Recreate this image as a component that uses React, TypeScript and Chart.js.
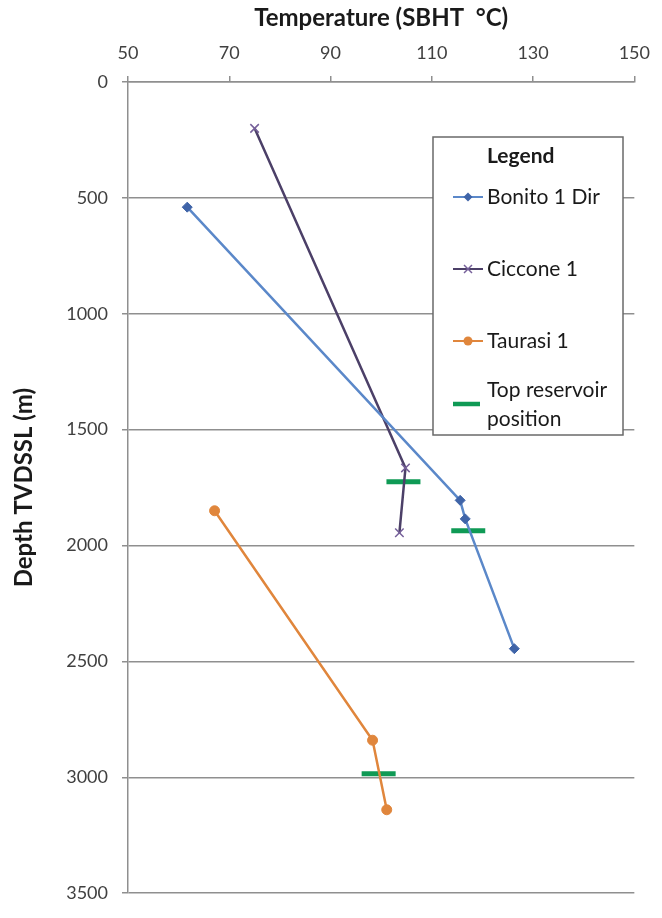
import React, { useEffect, useRef } from "react";
import { Chart, registerables } from "chart.js";

Chart.register(...registerables);

// Well temperature (SBHT, °C) against depth (m TVDSSL)
const bonitoTemp = [61.7, 115.6, 116.6, 126.3];
const bonitoDepth = [540, 1805, 1885, 2445];

const cicconeTemp = [75.0, 104.8, 103.6];
const cicconeDepth = [200, 1665, 1945];

const taurasiTemp = [67.1, 98.3, 101.1];
const taurasiDepth = [1850, 2840, 3140];

const reservoirTemp = [104.4, 117.2, 99.5];
const reservoirDepth = [1725, 1936, 2985];

const tempTicks = [50, 70, 90, 110, 130, 150];
const depthTicks = [0, 500, 1000, 1500, 2000, 2500, 3000, 3500];

const seriesNames = ["Bonito 1 Dir", "Ciccone 1", "Taurasi 1", "Top reservoir position"];

const FONT = "Lato, 'Open Sans', sans-serif";
const GRID = "#8f8f8f";
const BLUE_LINE = "#5b88c9";
const BLUE_MARK = "#3f64a8";
const PURPLE_LINE = "#4c4068";
const PURPLE_MARK = "#76609a";
const ORANGE = "#e0863c";
const GREEN = "#0f9a55";

const toPoints = (xs: number[], ys: number[]) => xs.map((x, i) => ({ x, y: ys[i] }));

// Boxed legend drawn inside the plot area, to the right
const legendBox = {
  id: "legendBox",
  afterDatasetsDraw(chart: any) {
    const { ctx, chartArea } = chart;
    const left = chartArea.left + 305;
    const top = chartArea.top + 55;
    const w = 190;
    const h = 298;
    ctx.save();
    ctx.fillStyle = "#ffffff";
    ctx.fillRect(left, top, w, h);
    ctx.strokeStyle = "#6a6a6a";
    ctx.lineWidth = 1.5;
    ctx.strokeRect(left, top, w, h);

    ctx.fillStyle = "#1a1a1a";
    ctx.textBaseline = "middle";
    ctx.textAlign = "left";
    ctx.font = `bold 21px ${FONT}`;
    const textX = left + 54;
    ctx.fillText("Legend", textX, top + 19);

    ctx.font = `21px ${FONT}`;
    const sx0 = left + 20;
    const sx1 = left + 50;
    const mx = (sx0 + sx1) / 2;

    const sampleLine = (y: number, color: string) => {
      ctx.strokeStyle = color;
      ctx.lineWidth = 2;
      ctx.beginPath();
      ctx.moveTo(sx0, y);
      ctx.lineTo(sx1, y);
      ctx.stroke();
    };

    // Bonito 1 Dir
    let y = top + 60;
    sampleLine(y, BLUE_LINE);
    ctx.fillStyle = BLUE_MARK;
    ctx.beginPath();
    ctx.moveTo(mx, y - 4.5);
    ctx.lineTo(mx + 4.5, y);
    ctx.lineTo(mx, y + 4.5);
    ctx.lineTo(mx - 4.5, y);
    ctx.closePath();
    ctx.fill();
    ctx.fillStyle = "#1a1a1a";
    ctx.fillText(seriesNames[0], textX, y);

    // Ciccone 1
    y = top + 132;
    sampleLine(y, PURPLE_LINE);
    ctx.strokeStyle = PURPLE_MARK;
    ctx.lineWidth = 1.5;
    ctx.beginPath();
    ctx.moveTo(mx - 4, y - 4);
    ctx.lineTo(mx + 4, y + 4);
    ctx.moveTo(mx + 4, y - 4);
    ctx.lineTo(mx - 4, y + 4);
    ctx.stroke();
    ctx.fillStyle = "#1a1a1a";
    ctx.fillText(seriesNames[1], textX, y);

    // Taurasi 1
    y = top + 204;
    sampleLine(y, ORANGE);
    ctx.fillStyle = ORANGE;
    ctx.beginPath();
    ctx.arc(mx, y, 4.5, 0, Math.PI * 2);
    ctx.fill();
    ctx.fillStyle = "#1a1a1a";
    ctx.fillText(seriesNames[2], textX, y);

    // Top reservoir position
    y = top + 267;
    ctx.strokeStyle = GREEN;
    ctx.lineWidth = 4.5;
    ctx.beginPath();
    ctx.moveTo(sx0, y);
    ctx.lineTo(sx1 - 3, y);
    ctx.stroke();
    ctx.fillStyle = "#1a1a1a";
    ctx.fillText("Top reservoir", textX, y - 14);
    ctx.fillText("position", textX, y + 15);
    ctx.restore();
  },
};

export default function App() {
  const canvasRef = useRef<HTMLCanvasElement>(null);

  useEffect(() => {
    const canvas = canvasRef.current;
    if (!canvas) return;

    const chart = new Chart(canvas, {
      type: "scatter",
      data: {
        datasets: [
          {
            label: seriesNames[0],
            data: toPoints(bonitoTemp, bonitoDepth),
            showLine: true,
            borderColor: BLUE_LINE,
            borderWidth: 2.5,
            pointStyle: "rectRot",
            pointRadius: 5,
            pointBackgroundColor: BLUE_MARK,
            pointBorderColor: BLUE_MARK,
            pointBorderWidth: 1,
          },
          {
            label: seriesNames[1],
            data: toPoints(cicconeTemp, cicconeDepth),
            showLine: true,
            borderColor: PURPLE_LINE,
            borderWidth: 2.5,
            pointStyle: "crossRot",
            pointRadius: 6,
            pointBorderColor: PURPLE_MARK,
            pointBorderWidth: 1.5,
          },
          {
            label: seriesNames[2],
            data: toPoints(taurasiTemp, taurasiDepth),
            showLine: true,
            borderColor: ORANGE,
            borderWidth: 2.5,
            pointStyle: "circle",
            pointRadius: 5,
            pointBackgroundColor: ORANGE,
            pointBorderColor: ORANGE,
            pointBorderWidth: 1,
          },
          {
            label: seriesNames[3],
            data: toPoints(reservoirTemp, reservoirDepth),
            showLine: false,
            pointStyle: "line",
            pointRadius: 17,
            pointBorderColor: GREEN,
            pointBorderWidth: 5,
            borderColor: GREEN,
          },
        ],
      },
      options: {
        responsive: false,
        animation: false,
        layout: { padding: { left: 0, top: 0, right: 19, bottom: 9 } },
        plugins: {
          legend: { display: false },
          tooltip: { enabled: false },
        },
        scales: {
          x: {
            type: "linear",
            position: "top",
            min: 50,
            max: 150,
            afterBuildTicks: (s: any) => {
              s.ticks = tempTicks.map((v) => ({ value: v }));
            },
            afterFit: (s: any) => {
              s.height = 82;
            },
            title: {
              display: true,
              text: "Temperature (SBHT  °C)",
              color: "#1a1a1a",
              font: { family: FONT, size: 24, weight: "bold" },
              padding: { top: 4, bottom: 0 },
            },
            ticks: {
              color: "#404040",
              font: { family: FONT, size: 18 },
              padding: 12,
              maxRotation: 0,
              callback: (v: any) => String(v),
            },
            grid: {
              display: true,
              drawOnChartArea: false,
              drawTicks: true,
              tickLength: 6,
              color: GRID,
              lineWidth: 1.5,
            },
            border: { display: true, color: GRID, width: 1.5 },
          },
          y: {
            type: "linear",
            position: "left",
            reverse: true,
            min: 0,
            max: 3500,
            afterBuildTicks: (s: any) => {
              s.ticks = depthTicks.map((v) => ({ value: v }));
            },
            afterFit: (s: any) => {
              s.width = 128;
            },
            title: {
              display: true,
              text: "Depth TVDSSL (m)",
              color: "#1a1a1a",
              font: { family: FONT, size: 24, weight: "bold" },
              padding: { top: 10, bottom: 0 },
            },
            ticks: {
              color: "#404040",
              font: { family: FONT, size: 18 },
              padding: 14,
              callback: (v: any) => String(v),
            },
            grid: {
              display: true,
              drawOnChartArea: true,
              drawTicks: true,
              tickLength: 6,
              color: GRID,
              lineWidth: 1.5,
            },
            border: { display: true, color: GRID, width: 1.5 },
          },
        },
      },
      plugins: [legendBox],
    });

    return () => chart.destroy();
  }, []);

  return (
    <div style={{ position: "fixed", left: 0, top: 0, width: 662, height: 918, background: "#ffffff" }}>
      <canvas ref={canvasRef} width={662} height={918} style={{ display: "block" }} />
    </div>
  );
}
